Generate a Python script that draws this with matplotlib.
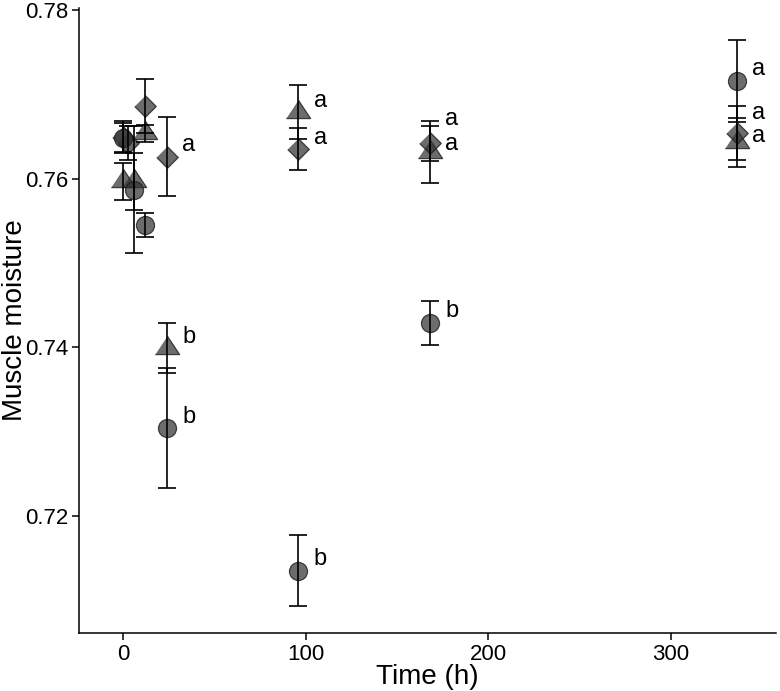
import matplotlib
matplotlib.use('Agg')
import matplotlib.pyplot as plt
import numpy as np

# ---- data -------------------------------------------------------------
times_circle = [0, 6, 12, 24, 96, 168, 336]
circle_mean = [0.7648, 0.7587, 0.7545, 0.7304, 0.7135, 0.7429, 0.7716]
circle_se = [0.0018, 0.0075, 0.0014, 0.0071, 0.0042, 0.0026, 0.0049]

times_tri = [0, 6, 12, 24, 96, 168, 336]
tri_mean = [0.7597, 0.7597, 0.7654, 0.7399, 0.7679, 0.7632, 0.7643]
tri_se = [0.0022, 0.0034, 0.0010, 0.0030, 0.0032, 0.0037, 0.0029]

times_dia = [0, 3, 12, 24, 96, 168, 336]
dia_mean = [0.7650, 0.7642, 0.7686, 0.7626, 0.7635, 0.7642, 0.7654]
dia_se = [0.0018, 0.0020, 0.0032, 0.0047, 0.0025, 0.0021, 0.0032]

label_times = [24, 96, 168, 336]
circle_letters = ['b', 'b', 'b', 'a']
tri_letters = ['b', 'a', 'a', 'a']
dia_letters = ['a', 'a', 'a', 'a']

x_ticks = [0, 100, 200, 300]
y_ticks = [0.72, 0.74, 0.76, 0.78]
x_label = 'Time (h)'
y_label = 'Muscle moisture'

# ---- style ------------------------------------------------------------
plt.rcParams['font.family'] = ['Liberation Sans', 'DejaVu Sans']
tick_fs = 16
title_fs = 20
letter_fs = 17

W, H = 780, 691
fig = plt.figure(figsize=(W / 100, H / 100), dpi=100)
ax_l, ax_r, ax_t, ax_b = 79, 776, 8, 633
ax = fig.add_axes([ax_l / W, 1 - ax_b / H, (ax_r - ax_l) / W, (ax_b - ax_t) / H])

face = (0.2, 0.2, 0.2, 0.72)
edge = (0.12, 0.12, 0.12, 0.8)
tri_marker = [(-1, -0.5), (1, -0.5), (0, 1)]
dia_marker = [(0, 1), (1, 0), (0, -1), (-1, 0)]

series = [
    (times_tri, tri_mean, tri_se, tri_marker, 17.5, tri_letters, [0, 0, -3, -4]),
    (times_dia, dia_mean, dia_se, dia_marker, 15.5, dia_letters, [0, 0, 9, 6]),
    (times_circle, circle_mean, circle_se, 'o', 13, circle_letters, [0, 0, 0, 0]),
]

for t, m, se, mk, ms, letters, nud in series:
    ax.plot(t, m, linestyle='none', marker=mk, markersize=ms,
            markerfacecolor=face, markeredgecolor=edge, markeredgewidth=0.9,
            zorder=2)

for t, m, se, mk, ms, letters, nud in series:
    ax.errorbar(t, m, yerr=se, fmt='none', ecolor='black', elinewidth=1.2,
                capsize=6.5, capthick=1.2, zorder=3)

for t, m, se, mk, ms, letters, nud in series:
    for lt, let, nd in zip(label_times, letters, nud):
        i = t.index(lt)
        ax.annotate(let, (lt, m[i]), xytext=(16, 4 + nd), textcoords='offset points',
                    ha='center', va='baseline', fontsize=letter_fs, zorder=4)

ax.set_xlim(-24, 357.5)
ax.set_ylim(0.7061, 0.78025)
ax.set_xticks(x_ticks)
ax.set_yticks(y_ticks)
ax.set_yticklabels([f'{v:.2f}' for v in y_ticks])
ax.tick_params(axis='both', labelsize=tick_fs, length=5, width=1.1, direction='out',
               pad=3, colors='black')

ax.set_xlabel(x_label, fontsize=title_fs, va='baseline')
ax.xaxis.set_label_coords(0.5, -(684 - ax_b) / (ax_b - ax_t))
ax.set_ylabel(y_label, fontsize=title_fs, va='baseline')
ax.yaxis.set_label_coords(-(ax_l - 22) / (ax_r - ax_l), 0.5)

for s in ['top', 'right']:
    ax.spines[s].set_visible(False)
for s in ['left', 'bottom']:
    ax.spines[s].set_linewidth(1.1)

fig.savefig('out.png', dpi=100)
